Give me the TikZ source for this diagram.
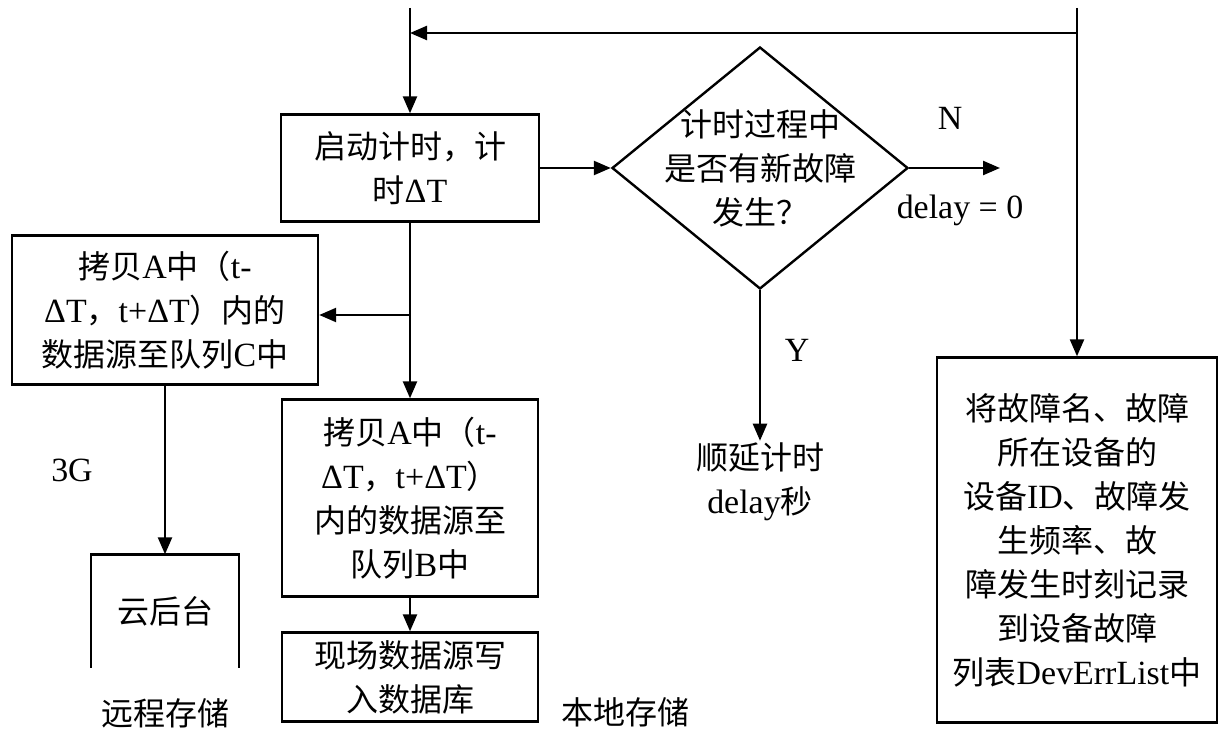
\documentclass[tikz,border=0pt]{standalone}
\usepackage{fontspec}
\setmainfont{Liberation Serif}[Scale=1.06]
\newfontfamily\cjk{Noto Sans CJK SC}
\newcommand{\zhtxt}[1]{{\cjk #1}}
\usetikzlibrary{shapes.geometric,arrows.meta}
\tikzset{
  box/.style={draw, line width=2.4pt, align=center, inner sep=0pt},
  txt/.style={align=center, inner sep=2pt},
  ln/.style={line width=2.4pt},
  arr/.style={line width=2.4pt, -{Triangle[length=17pt,width=14pt]}}
}
\begin{document}
\begin{tikzpicture}[x=1pt, y=-1pt, font=\fontsize{32}{44}\selectfont]
\useasboundingbox (0,0) rectangle (1219,738);

\node[box, minimum width=258, minimum height=107] (start) at (410,168) {\zhtxt{启动计时，计}\\\zhtxt{时}ΔT};
\node[diamond, draw, line width=2.4pt, minimum width=296, minimum height=242, inner sep=0pt] (dec) at (760,168) {};
\node[txt] (dect) at (dec.center) {\zhtxt{计时过程中}\\\zhtxt{是否有新故障}\\\zhtxt{发生？}};
\node[box, minimum width=306, minimum height=149] (cpyC) at (165,310) {\zhtxt{拷贝}A\zhtxt{中（}t-\\ΔT\zhtxt{，}t+ΔT\zhtxt{）内的}\\\zhtxt{数据源至队列}C\zhtxt{中}};
\node[box, minimum width=256, minimum height=197] (cpyB) at (410,498) {\zhtxt{拷贝}A\zhtxt{中（}t-\\ΔT\zhtxt{，}t+ΔT\zhtxt{）}\\\zhtxt{内的数据源至}\\\zhtxt{队列}B\zhtxt{中}};
\node[box, minimum width=256, minimum height=89] (dbw) at (410,677) {\zhtxt{现场数据源写}\\\zhtxt{入数据库}};
\node[txt, minimum width=148, minimum height=113, inner sep=0pt] (cloud) at (165,611) {\zhtxt{云后台}};
\node[box, minimum width=280, minimum height=365] (rec) at (1077,540) {\zhtxt{将故障名、故障}\\\zhtxt{所在设备的}\\\zhtxt{设备}ID\zhtxt{、故障发}\\\zhtxt{生频率、故}\\\zhtxt{障发生时刻记录}\\\zhtxt{到设备故障}\\\zhtxt{列表}DevErrList\zhtxt{中}};
\node[txt] (post) at (760,482) {\zhtxt{顺延计时}\\delay\zhtxt{秒}};

\node[txt] (lblN) at (950,118) {N};
\node[txt] (lbld) at (960,210) {delay = 0};
\node[txt] (lblY) at (797,350) {Y};
\node[txt] (lbl3g) at (72,470) {3G};
\node[txt] (remote) at (165,713) {\zhtxt{远程存储}};
\node[txt] (local) at (625,712) {\zhtxt{本地存储}};

\coordinate (t1) at (410,8);
\coordinate (join) at (410,33);
\coordinate (t2) at (1077,8);
\coordinate (loopR) at (1077,33);
\coordinate (br) at (410,315);
\coordinate (nout) at (1000,168);

% loop back along the top
\draw[ln] (t1) -- (join);
\draw[arr] (join) -- (start.north);
\draw[arr] (loopR) -- (join);
\draw[arr] (t2) -- (rec.north);

\draw[arr] (start.east) -- (dec.west);
\draw[arr] (dec.east) -- (nout);
\draw[arr] (dec.south) -- (post.north);

\draw[arr] (start.south) -- (cpyB.north);
\draw[arr] (br) -- (br -| cpyC.east);
\draw[arr] (cpyC.south) -- (cloud.north);
\draw[arr] (cpyB.south) -- (dbw.north);

% cloud box is open at the bottom
\draw[ln] (cloud.south west) -- (cloud.north west) -- (cloud.north east) -- (cloud.south east);
\end{tikzpicture}
\end{document}
